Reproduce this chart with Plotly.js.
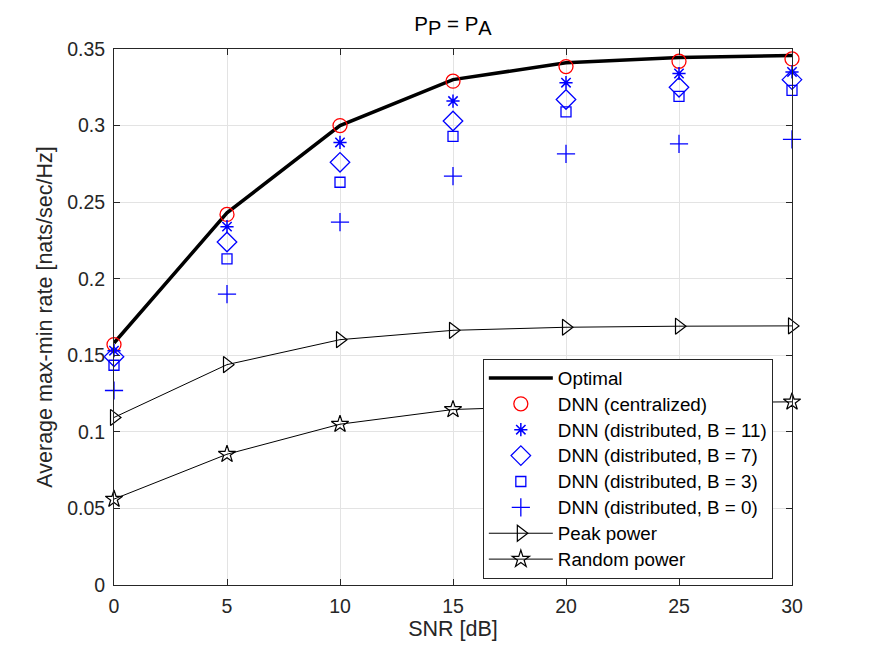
<!DOCTYPE html>
<html>
<head>
<meta charset="utf-8">
<script src="https://cdn.plot.ly/plotly-3.0.1.min.js"></script>
<style>
  html, body { margin: 0; padding: 0; background: #ffffff; }
  #chart { width: 875px; height: 657px; }
</style>
</head>
<body>
<div id="chart"></div>
<script>
// SNR sweep in dB
const snr = [0, 5, 10, 15, 20, 25, 30];

// Average max-min rate [nats/sec/Hz] per scheme
const optimal        = [0.158, 0.243, 0.300, 0.330, 0.341, 0.3445, 0.3457];
const dnnCentralized = [0.157, 0.242, 0.300, 0.329, 0.3385, 0.342, 0.3435];
const dnnB11         = [0.153, 0.234, 0.289, 0.316, 0.328, 0.334, 0.335];
const dnnB7          = [0.149, 0.224, 0.276, 0.303, 0.317, 0.325, 0.330];
const dnnB3          = [0.1435, 0.213, 0.263, 0.293, 0.309, 0.319, 0.323];
const dnnB0          = [0.127, 0.190, 0.237, 0.267, 0.2815, 0.288, 0.291];
const peakPower      = [0.1094, 0.1439, 0.1602, 0.1663, 0.1683, 0.169, 0.1692];
const randomPower    = [0.0561, 0.0854, 0.105, 0.1146, 0.117, 0.119, 0.1196];

const yTicks = [0, 0.05, 0.1, 0.15, 0.2, 0.25, 0.3, 0.35];
const yTickText = ['0', '0.05', '0.1', '0.15', '0.2', '0.25', '0.3', '0.35'];
const xTicks = [0, 5, 10, 15, 20, 25, 30];

const names = [
  'Optimal',
  'DNN (centralized)',
  'DNN (distributed, B = 11)',
  'DNN (distributed, B = 7)',
  'DNN (distributed, B = 3)',
  'DNN (distributed, B = 0)',
  'Peak power',
  'Random power'
];

const FONT = 'Liberation Sans, Arial, Helvetica, sans-serif';
const INK = '#262626';
const blue = '#0000ff';

// legend rows are spaced from the legend font size; the label itself is drawn a bit larger
const label = s => '<span style="font-size:18.8px">' + s + '</span>';

const traces = [
  { x: snr, y: optimal, name: label(names[0]), mode: 'lines',
    line: { color: '#000000', width: 3.5 } },
  { x: snr, y: dnnCentralized, name: label(names[1]), mode: 'markers',
    marker: { symbol: 'circle-open', size: 14, color: '#ff0000', line: { width: 1.3 } } },
  { x: snr, y: dnnB11, name: label(names[2]), mode: 'markers',
    marker: { symbol: 'asterisk-open', size: 11, color: blue, line: { width: 1.5 } } },
  { x: snr, y: dnnB7, name: label(names[3]), mode: 'markers',
    marker: { symbol: 'diamond-open', size: 15, color: blue, line: { width: 1.3 } } },
  { x: snr, y: dnnB3, name: label(names[4]), mode: 'markers',
    marker: { symbol: 'square-open', size: 10, color: blue, line: { width: 1.3 } } },
  { x: snr, y: dnnB0, name: label(names[5]), mode: 'markers',
    marker: { symbol: 'cross-thin-open', size: 13, color: blue, line: { width: 1.3 } } },
  { x: snr, y: peakPower, name: label(names[6]), mode: 'lines+markers',
    line: { color: '#000000', width: 1 },
    marker: { symbol: 'triangle-right-open', size: 14, color: '#000000', line: { width: 1.2 } } },
  { x: snr, y: randomPower, name: label(names[7]), mode: 'lines+markers',
    line: { color: '#000000', width: 1 },
    marker: { symbol: 'star-open', size: 13, color: '#000000', line: { width: 1.2 } } }
];
traces.forEach(t => { t.cliponaxis = false; });

const axisCommon = {
  showline: true,
  linecolor: INK,
  linewidth: 1,
  mirror: 'ticks',
  ticks: 'inside',
  ticklen: 6,
  tickcolor: INK,
  showgrid: true,
  gridcolor: '#e3e3e3',
  gridwidth: 1,
  zeroline: false,
  ticklabelstandoff: 4,
  tickfont: { family: FONT, size: 19.5, color: INK }
};

const layout = {
  width: 875,
  height: 657,
  paper_bgcolor: '#ffffff',
  plot_bgcolor: '#ffffff',
  margin: { l: 114, r: 83, t: 49, b: 72 },
  showlegend: true,
  title: {
    text: 'P<sub><span style="font-size:20px">P</span></sub> = P<sub><span style="font-size:20px">A</span></sub>',
    font: { family: FONT, size: 20.5, color: '#000000' },
    x: 0.5 * (114 + 792) / 875,
    xanchor: 'center',
    y: 1 - 24 / 657,
    yanchor: 'middle'
  },
  xaxis: Object.assign({}, axisCommon, {
    range: [0, 30],
    tickvals: xTicks,
    title: { text: 'SNR [dB]', standoff: 4,
      font: { family: FONT, size: 21.5, color: INK } }
  }),
  yaxis: Object.assign({}, axisCommon, {
    range: [0, 0.35],
    tickvals: yTicks,
    ticktext: yTickText,
    title: { text: 'Average max-min rate [nats/sec/Hz]', standoff: 8,
      font: { family: FONT, size: 21.5, color: INK } }
  }),
  legend: {
    x: 0.544,
    y: 0.4216,
    xanchor: 'left',
    yanchor: 'top',
    bgcolor: '#ffffff',
    bordercolor: INK,
    borderwidth: 1,
    itemwidth: 64,
    tracegroupgap: 0,
    font: { family: FONT, size: 17.6, color: '#000000' }
  }
};

Plotly.newPlot('chart', traces, layout, { displayModeBar: false, staticPlot: true });
</script>
</body>
</html>
